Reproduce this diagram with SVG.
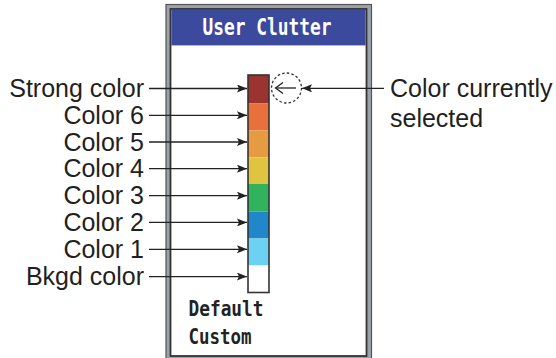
<svg xmlns="http://www.w3.org/2000/svg" width="556" height="358" viewBox="0 0 556 358">
<defs>
<marker id="ah" viewBox="0 0 10 8" refX="10" refY="4" markerWidth="10" markerHeight="8" markerUnits="userSpaceOnUse" orient="auto">
<path d="M0,0 L10,4 L0,8 L2,4 Z" fill="#222"/>
</marker>
<style>
.lbl{font-family:"Liberation Sans",Arial,sans-serif;font-size:25px;fill:#231f20}
.mono{font-family:"DejaVu Sans Mono","Liberation Mono",monospace;font-weight:bold}
.ln{stroke:#222;stroke-width:1.3;fill:none}
.seg{stroke:none}
</style>
</defs>
<g id="panel">
<rect x="166" y="4.5" width="205.5" height="355" fill="#9ca2aa" stroke="#555" stroke-width="1.2"/>
<rect x="170.5" y="9" width="196" height="347" fill="#ffffff" stroke="#333" stroke-width="1.8"/>
<rect x="171.4" y="9.9" width="194.2" height="35.5" fill="#3b4a9d"/>
<text class="mono" x="267" y="35" font-size="23" fill="#ffffff" text-anchor="middle" textLength="129" lengthAdjust="spacingAndGlyphs">User Clutter</text>
<text class="mono" x="188.5" y="316" font-size="22" fill="#222" textLength="75" lengthAdjust="spacingAndGlyphs">Default</text>
<text class="mono" x="188.5" y="343.5" font-size="22" fill="#222" textLength="63" lengthAdjust="spacingAndGlyphs">Custom</text>
</g>
<g id="colorbar">
<rect class="seg" x="248" y="75" width="21" height="28.5" fill="#9b3330"/>
<rect class="seg" x="248" y="103.5" width="21" height="27" fill="#e8713b"/>
<rect class="seg" x="248" y="130.5" width="21" height="27" fill="#e49b42"/>
<rect class="seg" x="248" y="157.5" width="21" height="26.5" fill="#dfc441"/>
<rect class="seg" x="248" y="184" width="21" height="27.5" fill="#30b35c"/>
<rect class="seg" x="248" y="211.5" width="21" height="27" fill="#1f87ca"/>
<rect class="seg" x="248" y="238.5" width="21" height="27" fill="#6dd1f3"/>
<rect class="seg" x="248" y="265.5" width="21" height="27" fill="#ffffff"/>
<rect x="248" y="75" width="21" height="217.5" fill="none" stroke="#333" stroke-width="1.6"/>
</g>
<g id="labels">
<text class="lbl" x="144" y="97" text-anchor="end">Strong color</text>
<text class="lbl" x="144" y="123.5" text-anchor="end">Color 6</text>
<text class="lbl" x="144" y="150.5" text-anchor="end">Color 5</text>
<text class="lbl" x="144" y="177" text-anchor="end">Color 4</text>
<text class="lbl" x="144" y="204" text-anchor="end">Color 3</text>
<text class="lbl" x="144" y="231" text-anchor="end">Color 2</text>
<text class="lbl" x="144" y="258" text-anchor="end">Color 1</text>
<text class="lbl" x="144" y="285" text-anchor="end">Bkgd color</text>
<text class="lbl" x="390" y="97">Color currently</text>
<text class="lbl" x="390" y="127">selected</text>
</g>
<g id="connectors">
<line class="ln" x1="149" y1="88.5" x2="247" y2="88.5" marker-end="url(#ah)"/>
<line class="ln" x1="149" y1="115.3" x2="247" y2="115.3" marker-end="url(#ah)"/>
<line class="ln" x1="149" y1="142" x2="247" y2="142" marker-end="url(#ah)"/>
<line class="ln" x1="149" y1="168.7" x2="247" y2="168.7" marker-end="url(#ah)"/>
<line class="ln" x1="149" y1="195.7" x2="247" y2="195.7" marker-end="url(#ah)"/>
<line class="ln" x1="149" y1="222.4" x2="247" y2="222.4" marker-end="url(#ah)"/>
<line class="ln" x1="149" y1="249.3" x2="247" y2="249.3" marker-end="url(#ah)"/>
<line class="ln" x1="149" y1="276.6" x2="247" y2="276.6" marker-end="url(#ah)"/>
<line class="ln" x1="384" y1="88.3" x2="302" y2="88.3" marker-end="url(#ah)"/>
<circle cx="286.5" cy="88" r="15" fill="none" stroke="#333" stroke-width="1.3" stroke-dasharray="2.5,2.2"/>
<line class="ln" x1="296" y1="88" x2="276" y2="88" stroke-width="1.6"/>
<path class="ln" d="M283,82.5 L275.5,88 L283,93.5" stroke-width="1.6"/>
</g>
</svg>
